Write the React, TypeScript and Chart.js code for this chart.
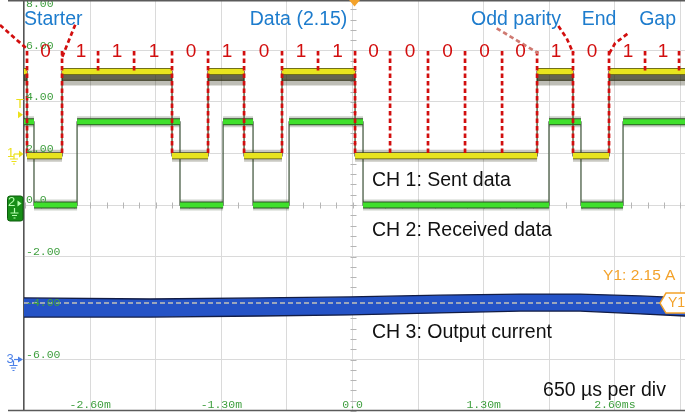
import React, { useEffect, useRef } from 'react';
import { Chart, registerables } from 'chart.js';

Chart.register(...registerables);

// ---------- axes: time in ms (650 µs per division), amplitude per channel ----------
const X_MIN = -3.256;
const X_MAX = 3.295;
const Y_MIN = -7.96;
const Y_MAX = 7.96;
const xGridValues = [-3.25, -2.6, -1.95, -1.3, -0.65, 0, 0.65, 1.3, 1.95, 2.6, 3.25];
const xTickValues = [-2.6, -1.3, 0, 1.3, 2.6];
const xTickLabels = ['-2.60m', '-1.30m', '0.0', '1.30m', '2.60ms'];
const yGridValues = [-6, -4, -2, 0, 2, 4, 6];
const yTickValues = [8, 6, 4, 2, 0, -2, -4, -6];
const yTickLabels = ['8.00', '6.00', '4.00', '2.00', '0.0', '-2.00', '-4.00', '-6.00'];

// ---------- CH1: sent data frame ----------
const bitBoundaries = [
  -3.226, -2.879, -2.522, -2.165, -1.789, -1.432, -1.075, -0.699, -0.342, 0.025,
  0.372, 0.748, 1.115, 1.482, 1.829, 2.185, 2.542, 2.899, 3.236,
];
const bitValues = [0, 1, 1, 1, 0, 1, 0, 1, 1, 0, 0, 0, 0, 0, 1, 0, 1, 1];
const bitLabels = ['0', '1', '1', '1', '0', '1', '0', '1', '1', '0', '0', '0', '0', '0', '1', '0', '1', '1'];
const idleLevel = 1;
const ch1High = 5.18;
const ch1Low = 1.91;
const markerTop = 5.98;

// ---------- CH2: received data ----------
const ch2Edges = [-3.157, -2.73, -1.71, -1.283, -0.986, -0.629, 0.104, 1.947, 2.264, 2.681];
const ch2StartLevel = 1;
const ch2High = 3.23;
const ch2Low = 0;

// ---------- CH3: output current band ----------
const ch3Times = [-3.256, -2.007, -0.917, -0.025, 0.867, 1.66, 2.255, 2.85, 3.295];
const ch3Upper = [-3.61, -3.65, -3.61, -3.57, -3.5, -3.46, -3.46, -3.53, -3.61];
const ch3Lower = [-4.35, -4.35, -4.31, -4.27, -4.19, -4.12, -4.12, -4.23, -4.31];
const y1Cursor = -3.81;

// ---------- pointer lines (red dashed) ----------
const starterPointerA = [{ x: -3.494, y: 6.99 }, { x: -3.226, y: 6.06 }];
const starterPointerB = [{ x: -2.876, y: 5.76 }, { x: -2.74, y: 7.08 }];
const parityPointerA = [{ x: 1.429, y: 6.86 }, { x: 1.841, y: 5.89 }];
const parityPointerB = [{ x: 2.04, y: 6.95 }, { x: 2.123, y: 6.47 }, { x: 2.188, y: 5.89 }];
const gapPointer = [{ x: 2.545, y: 5.89 }, { x: 2.602, y: 6.28 }, { x: 2.733, y: 6.67 }];

// ---------- annotations ----------
const headerLabels = [
  { text: 'Starter', x: -3.256, y: 7.2, align: 'left' },
  { text: 'Data (2.15)', x: -0.535, y: 7.2, align: 'center' },
  { text: 'Odd parity', x: 1.62, y: 7.2, align: 'center' },
  { text: 'End', x: 2.443, y: 7.2, align: 'center' },
  { text: 'Gap', x: 3.023, y: 7.2, align: 'center' },
];
const bitLabelLevel = 5.94;
const channelLabels = [
  { text: 'CH 1: Sent data', x: 0.193, y: 0.96 },
  { text: 'CH 2: Received data', x: 0.193, y: -0.98 },
  { text: 'CH 3: Output current', x: 0.193, y: -4.97 },
  { text: '650 µs per div', x: 1.888, y: -7.22 },
];
const cursorLabel = { text: 'Y1: 2.15 A', x: 2.483, y: -2.76 };
const triggerLevel = 3.5;
const ch1Offset = 1.98;
const ch2Offset = 0;
const ch3Offset = -6;

const SANS = '"Liberation Sans", Arial, Helvetica, sans-serif';
const MONO = '"Liberation Mono", "DejaVu Sans Mono", monospace';
const YELLOW = '#e8e41e';
const MARK_YELLOW = '#ece11c';
const GREEN = '#3fe02c';
const BLUE_TEXT = '#1d7ccd';
const RED = '#d20e0e';
const ORANGE = '#f3a22a';
const AXIS_GREEN = '#3f9f3f';

type Iv = { from: number; to: number; v: number };

function merge(list: Iv[]): Iv[] {
  const out: Iv[] = [];
  for (const iv of list) {
    const last = out[out.length - 1];
    if (last && last.v === iv.v) last.to = iv.to;
    else out.push({ ...iv });
  }
  return out;
}

function ch1Intervals(): Iv[] {
  const list: Iv[] = [{ from: X_MIN, to: bitBoundaries[0], v: idleLevel }];
  for (let i = 0; i < bitValues.length; i++) {
    list.push({ from: bitBoundaries[i], to: bitBoundaries[i + 1], v: bitValues[i] });
  }
  list.push({ from: bitBoundaries[bitBoundaries.length - 1], to: X_MAX, v: idleLevel });
  return merge(list);
}

function ch2Intervals(): Iv[] {
  const list: Iv[] = [];
  let level = ch2StartLevel;
  let start = X_MIN;
  for (const e of ch2Edges) {
    list.push({ from: start, to: e, v: level });
    level = 1 - level;
    start = e;
  }
  list.push({ from: start, to: X_MAX, v: level });
  return list;
}

function stepPoints(ivs: Iv[], hi: number, lo: number) {
  const pts: any[] = [];
  for (const iv of ivs) {
    const y = iv.v ? hi : lo;
    pts.push({ x: iv.from, y }, { x: iv.to, y });
  }
  return pts;
}

function barPoints(ivs: Iv[], hi: number, lo: number, filter?: number, shift = 0) {
  const pts: any[] = [];
  for (const iv of ivs) {
    if (filter !== undefined && iv.v !== filter) continue;
    const y = (iv.v ? hi : lo) + shift;
    pts.push({ x: iv.from, y }, { x: iv.to, y }, { x: iv.to, y: null });
  }
  return pts;
}

function markerLines() {
  const pts: any[] = [];
  for (let i = 0; i < bitBoundaries.length; i++) {
    const left = i === 0 ? idleLevel : bitValues[i - 1];
    const right = i === bitValues.length ? idleLevel : bitValues[i];
    const bottom = left && right ? ch1High : ch1Low;
    const b = bitBoundaries[i];
    pts.push({ x: b, y: markerTop }, { x: b, y: bottom }, { x: b, y: null });
  }
  return pts;
}

function ds(label: string, data: any[], color: string, width: number, extra: any = {}) {
  return {
    label,
    data,
    borderColor: color,
    backgroundColor: color,
    borderWidth: width,
    pointRadius: 0,
    pointHoverRadius: 0,
    fill: false,
    tension: 0,
    spanGaps: false,
    borderCapStyle: 'butt',
    ...extra,
  };
}

function ground(ctx: CanvasRenderingContext2D, cx: number, top: number, color: string) {
  ctx.strokeStyle = color;
  ctx.lineWidth = 1.2;
  ctx.beginPath();
  ctx.moveTo(cx, top);
  ctx.lineTo(cx, top + 5);
  ctx.moveTo(cx - 4, top + 5);
  ctx.lineTo(cx + 4, top + 5);
  ctx.moveTo(cx - 2.5, top + 7.5);
  ctx.lineTo(cx + 2.5, top + 7.5);
  ctx.moveTo(cx - 1, top + 10);
  ctx.lineTo(cx + 1, top + 10);
  ctx.stroke();
}

function arrow(ctx: CanvasRenderingContext2D, xl: number, cy: number, color: string, w = 5, h = 7) {
  ctx.fillStyle = color;
  ctx.beginPath();
  ctx.moveTo(xl, cy - h / 2);
  ctx.lineTo(xl + w, cy);
  ctx.lineTo(xl, cy + h / 2);
  ctx.closePath();
  ctx.fill();
}

function txt(ctx: CanvasRenderingContext2D, s: string, x: number, y: number, font: string, color: string, align: CanvasTextAlign = 'left') {
  ctx.font = font;
  ctx.fillStyle = color;
  ctx.textAlign = align;
  ctx.textBaseline = 'middle';
  ctx.fillText(s, x, y);
}

const scopePlugin = {
  id: 'scopeOverlay',
  beforeDatasetsDraw(chart: any) {
    const { ctx, scales } = chart;
    const xs = scales.x;
    const ys = scales.y;
    const x0 = Math.round(xs.getPixelForValue(0)) + 0.5;
    const y0 = Math.round(ys.getPixelForValue(0)) + 0.5;
    ctx.save();
    ctx.strokeStyle = '#b5b5b5';
    ctx.lineWidth = 1;
    ctx.beginPath();
    for (let k = -20; k <= 20; k++) {
      const py = Math.round(ys.getPixelForValue(k * 0.4)) + 0.5;
      ctx.moveTo(x0 - 3, py);
      ctx.lineTo(x0 + 3, py);
    }
    for (let k = -20; k <= 20; k++) {
      const px = Math.round(xs.getPixelForValue(k * 0.1625)) + 0.5;
      ctx.moveTo(px, y0 - 3);
      ctx.lineTo(px, y0 + 3);
    }
    ctx.stroke();
    ctx.restore();
  },
  afterDatasetsDraw(chart: any) {
    const { ctx, chartArea: a, scales } = chart;
    const xs = scales.x;
    const ys = scales.y;
    ctx.save();
    const mono = `11.5px ${MONO}`;
    yTickValues.forEach((v, i) => {
      const py = Math.max(ys.getPixelForValue(v) - 5, 3.5);
      txt(ctx, yTickLabels[i], a.left + 2, py, mono, AXIS_GREEN, 'left');
    });
    xTickValues.forEach((v, i) => {
      txt(ctx, xTickLabels[i], xs.getPixelForValue(v), a.bottom - 5.5, mono, AXIS_GREEN, 'center');
    });
    ctx.restore();
  },
  afterDraw(chart: any) {
    const { ctx, chartArea: a, scales } = chart;
    const xs = scales.x;
    const ys = scales.y;
    ctx.save();

    // frame lines
    ctx.strokeStyle = '#5a5a5a';
    ctx.lineWidth = 1.5;
    ctx.beginPath();
    ctx.moveTo(8, 0.75);
    ctx.lineTo(a.right, 0.75);
    ctx.moveTo(8, a.bottom + 0.5);
    ctx.lineTo(a.right, a.bottom + 0.5);
    ctx.stroke();

    // trigger position marker
    const tx = xs.getPixelForValue(0) + 2;
    ctx.fillStyle = ORANGE;
    ctx.beginPath();
    ctx.moveTo(tx - 5.5, 0);
    ctx.lineTo(tx + 5.5, 0);
    ctx.lineTo(tx, 6.5);
    ctx.closePath();
    ctx.fill();

    // header labels
    const big = `19.5px ${SANS}`;
    headerLabels.forEach((h) => {
      txt(ctx, h.text, xs.getPixelForValue(h.x), ys.getPixelForValue(h.y), big, BLUE_TEXT, h.align as CanvasTextAlign);
    });

    // bit values
    bitLabels.forEach((s, i) => {
      const cx = (xs.getPixelForValue(bitBoundaries[i]) + xs.getPixelForValue(bitBoundaries[i + 1])) / 2 + 1;
      txt(ctx, s, cx, ys.getPixelForValue(bitLabelLevel), `19px ${SANS}`, RED, 'center');
    });

    // channel labels
    channelLabels.forEach((c) => {
      txt(ctx, c.text, xs.getPixelForValue(c.x), ys.getPixelForValue(c.y), big, '#111111', 'left');
    });

    // cursor label and Y1 marker
    txt(ctx, cursorLabel.text, xs.getPixelForValue(cursorLabel.x), ys.getPixelForValue(cursorLabel.y), `15.5px ${SANS}`, ORANGE, 'left');
    const cy = ys.getPixelForValue(y1Cursor);
    const r = a.right;
    ctx.fillStyle = '#ffffff';
    ctx.strokeStyle = ORANGE;
    ctx.lineWidth = 1.5;
    ctx.beginPath();
    ctx.moveTo(r - 25, cy);
    ctx.lineTo(r - 19, cy - 10);
    ctx.lineTo(r + 2, cy - 10);
    ctx.lineTo(r + 2, cy + 10);
    ctx.lineTo(r - 19, cy + 10);
    ctx.closePath();
    ctx.fill();
    ctx.stroke();
    txt(ctx, 'Y1', r - 17, cy + 0.5, `14px ${SANS}`, ORANGE, 'left');

    // left channel markers
    const small = `13px ${SANS}`;
    const pT = ys.getPixelForValue(triggerLevel);
    txt(ctx, 'T', 20, pT - 10, small, MARK_YELLOW, 'center');
    arrow(ctx, 18, pT, MARK_YELLOW, 5, 7);

    const p1 = ys.getPixelForValue(ch1Offset);
    txt(ctx, '1', 10.5, p1 - 1, small, MARK_YELLOW, 'center');
    ctx.strokeStyle = MARK_YELLOW;
    ctx.lineWidth = 1.2;
    ctx.beginPath();
    ctx.moveTo(14, p1);
    ctx.lineTo(19, p1);
    ctx.stroke();
    arrow(ctx, 19, p1, MARK_YELLOW, 4.5, 7);
    ground(ctx, 14, p1, MARK_YELLOW);

    const p2 = ys.getPixelForValue(ch2Offset);
    ctx.fillStyle = '#168e16';
    ctx.strokeStyle = '#0c5c0c';
    ctx.lineWidth = 1;
    ctx.beginPath();
    ctx.roundRect(7.5, p2 - 9, 15.5, 25, 2.5);
    ctx.fill();
    ctx.stroke();
    txt(ctx, '2', 11.5, p2 - 2.5, small, '#b8ffb0', 'center');
    arrow(ctx, 17.5, p2 - 1.5, '#b8ffb0', 4, 6);
    ground(ctx, 14.5, p2 + 3, '#b8ffb0');

    const p3 = ys.getPixelForValue(ch3Offset);
    txt(ctx, '3', 10, p3, small, '#4d82e8', 'center');
    arrow(ctx, 18, p3, '#4d82e8', 5, 6);
    ctx.strokeStyle = '#4d82e8';
    ctx.lineWidth = 1.2;
    ctx.beginPath();
    ctx.moveTo(14, p3);
    ctx.lineTo(18, p3);
    ctx.stroke();
    ground(ctx, 13.5, p3 + 1, '#4d82e8');

    ctx.restore();
  },
};

function buildConfig(): any {
  const iv1 = ch1Intervals();
  const iv2 = ch2Intervals();
  const upper = ch3Times.map((t, i) => ({ x: t, y: ch3Upper[i] }));
  const lower = ch3Times.map((t, i) => ({ x: t, y: ch3Lower[i] }));

  const list: any[] = [
    ds('CH3 upper', upper, '#121c44', 1.3, { fill: '+1', backgroundColor: '#2553c6' }),
    ds('CH3 lower', lower, '#121c44', 1.3),
    ds('Y1 cursor', [{ x: X_MIN, y: y1Cursor }, { x: X_MAX, y: y1Cursor }], '#c4c2b8', 1.5, { borderDash: [5, 3] }),
    ds('CH2 fringe', barPoints(iv2, ch2High, ch2Low), 'rgba(30,55,22,0.22)', 11),
    ds('CH2 edges', stepPoints(iv2, ch2High, ch2Low), '#4a5e46', 1.3),
    ds('CH2 outline', barPoints(iv2, ch2High, ch2Low), '#2f5226', 7),
    ds('CH2 received data', barPoints(iv2, ch2High, ch2Low), GREEN, 5),
    ds('CH1 edges', stepPoints(iv1, ch1High, ch1Low), '#4a4a2a', 1.3),
    ds('CH1 high fringe', barPoints(iv1, ch1High, ch1Low, 1, -0.42), 'rgba(40,40,12,0.3)', 6),
    ds('CH1 high noise', barPoints(iv1, ch1High, ch1Low, 1, -0.25), 'rgba(40,40,12,0.72)', 6),
    ds('CH1 low fringe', barPoints(iv1, ch1High, ch1Low, 0), 'rgba(40,40,12,0.25)', 12),
    ds('CH1 outline', barPoints(iv1, ch1High, ch1Low), '#4a4a18', 7),
    ds('CH1 sent data', barPoints(iv1, ch1High, ch1Low), YELLOW, 5.5),
    ds('Bit markers', markerLines(), RED, 2.7, { borderDash: [4.5, 3] }),
    ds('Starter pointer A', starterPointerA, RED, 2.7, { borderDash: [4.5, 3], clip: false }),
    ds('Starter pointer B', starterPointerB, RED, 2.7, { borderDash: [4.5, 3], clip: false }),
    ds('Parity pointer A', parityPointerA, '#cf7a72', 2.7, { borderDash: [4.5, 3], clip: false }),
    ds('Parity pointer B', parityPointerB, RED, 2.7, { borderDash: [4.5, 3], clip: false }),
    ds('Gap pointer', gapPointer, RED, 2.7, { borderDash: [4.5, 3], clip: false }),
  ];
  const n = list.length;
  list.forEach((d, i) => (d.order = n - i));

  return {
    type: 'line',
    data: { datasets: list },
    options: {
      animation: false,
      responsive: false,
      devicePixelRatio: 1,
      events: [],
      layout: { padding: { left: 24, right: 0, top: 0, bottom: 2 } },
      plugins: { legend: { display: false }, tooltip: { enabled: false } },
      scales: {
        x: {
          type: 'linear',
          min: X_MIN,
          max: X_MAX,
          afterBuildTicks: (s: any) => {
            s.ticks = xGridValues.map((v) => ({ value: v }));
          },
          ticks: { display: false },
          grid: { color: '#dadada', lineWidth: 1, drawTicks: false },
          border: { display: false },
        },
        y: {
          type: 'linear',
          min: Y_MIN,
          max: Y_MAX,
          afterBuildTicks: (s: any) => {
            s.ticks = yGridValues.map((v) => ({ value: v }));
          },
          ticks: { display: false },
          grid: { color: '#dadada', lineWidth: 1, drawTicks: false },
          border: { display: true, color: '#555555', width: 1.5 },
        },
      },
    },
    plugins: [scopePlugin],
  };
}

export default function App() {
  const ref = useRef<HTMLCanvasElement | null>(null);
  useEffect(() => {
    document.body.style.margin = '0';
    const canvas = ref.current;
    if (!canvas) return;
    const chart = new Chart(canvas, buildConfig());
    return () => chart.destroy();
  }, []);
  return <canvas ref={ref} width={685} height={412} style={{ display: 'block', width: 685, height: 412 }} />;
}
